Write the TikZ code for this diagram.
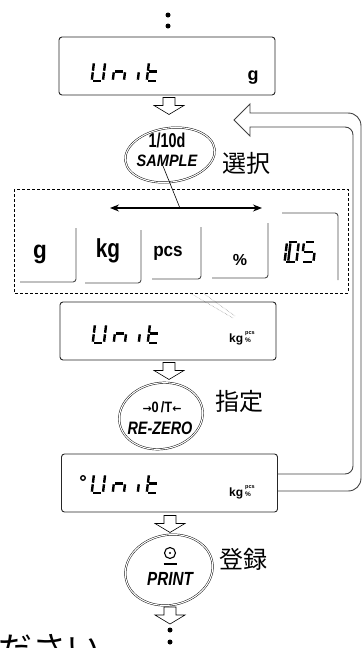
\documentclass[tikz,border=0pt]{standalone}
\usepackage{fontspec}
\setmainfont{Liberation Sans}
\newfontfamily\cjk{Noto Sans CJK JP}
\newfontfamily\djv{DejaVu Sans}
\usetikzlibrary{shapes.geometric,arrows.meta,calc}
\tikzset{
 seg/.style={line width=2.4pt, line cap=butt, black},
 disp/.style={draw=black!85, rounded corners=3pt, line width=0.9pt, minimum width=216pt, minimum height=58pt, inner sep=0pt},
 hollow/.style={draw=black, fill=white, line width=0.6pt, line join=miter},
 ring/.style={draw=black, line width=0.45pt, double=white, double distance=1.1pt},
 tabline/.style={draw=black!70, line width=0.9pt, rounded corners=3pt},
 kanji/.style={font=\cjk\fontsize{24}{24}\selectfont, inner sep=0pt},
 btntxt/.style={inner sep=0pt},
 fbline/.style={draw=black!75, line width=0.9pt},
 bigtxt/.style={inner sep=0pt, anchor=base},
}
\newcommand\segA{\draw[seg] (1.4,0) -- (8.6,0);}
\newcommand\segB{\draw[seg] (10,1.2) -- (10,7.8);}
\newcommand\segC{\draw[seg] (10,9.2) -- (10,15.8);}
\newcommand\segD{\draw[seg] (1.4,17) -- (8.6,17);}
\newcommand\segE{\draw[seg] (0,9.2) -- (0,15.8);}
\newcommand\segF{\draw[seg] (0,1.2) -- (0,7.8);}
\newcommand\segG{\draw[seg] (1.4,8.5) -- (8.6,8.5);}
\newcommand\glyph[4][1.12]{\begin{scope}[shift={(#2,#3)}, scale=#1, xslant=0.12]#4\end{scope}}
\newcommand\chU{\segB\segC\segD\segE\segF}
\newcommand\chN{\segC\segE\segG}
\newcommand\chI{\segE}
\newcommand\chT{\segD\segE\segF\segG}
\newcommand\chD{\segA\segB\segC\segD\segE\segF\draw[seg] (3,1.2) -- (3,15.8);}
\newcommand\chFive{\segA\segF\segG\segC\segD}
\newcommand\unitword[2]{%
 \glyph{#1}{#2}{\chU}
 \glyph{#1+21}{#2}{\chN}
 \glyph{#1+46}{#2}{\chI}
 \glyph{#1+55}{#2}{\chT}}
\newcommand\hdown[1]{\begin{scope}[shift={#1}]
 \draw[hollow] (-6,0) -- (-6,8) -- (-15,8) -- (0,17) -- (15,8) -- (6,8) -- (6,0) -- cycle;
 \end{scope}}
\newcommand\kgpcs[2]{%
 \node[inner sep=0pt, anchor=base west] at (#1,#2) {\fontsize{12}{12}\selectfont\bfseries kg};
 \node[inner sep=0pt, anchor=base west] at (#1+16,#2-7.5) {\fontsize{5.5}{5.5}\selectfont\bfseries pcs};
 \node[inner sep=0pt, anchor=base west] at (#1+16,#2+0.5) {\fontsize{6.5}{6.5}\selectfont\bfseries\%};}
\begin{document}
\begin{tikzpicture}[x=1pt,y=-1pt]
\useasboundingbox (0,0) rectangle (363,648);
% top dots
\fill (168,15) circle (2.5pt);
\fill (168,26) circle (2.5pt);
% display 1
\node[disp] (d1) at (167,66) {};
\unitword{94}{62}
\node[bigtxt] at (253,80) {\fontsize{18}{18}\selectfont\bfseries g};
\hdown{($(d1.south)+(2,2)$)}
% SAMPLE button
\node[ellipse, ring, minimum width=90pt, minimum height=54pt, rotate=8] (b1) at (170,155) {};
\node[btntxt] (b1a) at (167,140) {\scalebox{0.72}[1]{\fontsize{20}{20}\selectfont\bfseries 1/10d}};
\node[btntxt] (b1b) at (167,161) {\scalebox{0.88}[1]{\fontsize{16.5}{16.5}\selectfont\bfseries\itshape SAMPLE}};
\node[kanji] (k1) at (246,163) {選択};
% selection box
\draw[dashed, dash pattern=on 3pt off 2pt, line width=0.7pt] (14,189) rectangle (348,293);
\coordinate (la) at (110,208);
\coordinate (ra) at (262,208);
\draw[{Stealth[length=9pt,width=7pt]}-{Stealth[length=9pt,width=7pt]}, line width=1.2pt] (la) -- (ra);
\draw[line width=0.6pt] ($(b1b.south)+(-4,-1)$) -- ($(la)!0.46!(ra)$);
% tabs
\draw[tabline] (76,228) -- (76,282) -- (20,282);
\draw[tabline] (141,230) -- (141,283) -- (85,283);
\draw[tabline] (201,227) -- (201,279) -- (152,279);
\draw[tabline] (268,223) -- (268,278) -- (212,278);
\draw[tabline] (282,213) -- (338,213) -- (338,280);
\node[bigtxt] (t1) at (40,258) {\scalebox{0.9}[1]{\fontsize{25}{25}\selectfont\bfseries g}};
\node[bigtxt] (t2) at (108,257) {\scalebox{0.8}[1]{\fontsize{26}{26}\selectfont\bfseries kg}};
\node[bigtxt] (t3) at (168,256) {\scalebox{0.9}[1]{\fontsize{19}{19}\selectfont\bfseries pcs}};
\node[bigtxt] (t4) at (240,265) {\fontsize{16}{16}\selectfont\bfseries\%};
\glyph[1.18]{287}{242}{\chD}
\glyph[1.18]{304}{242}{\chFive}
% faint guide lines
\draw[black!45, densely dotted, line width=0.5pt] (190,293) -- (233,318);
\draw[black!45, densely dotted, line width=0.5pt] (203,293) -- (235,316);
% display 2
\node[disp] (d2) at (168,331) {};
\unitword{95}{324}
\kgpcs{229}{342}
\hdown{($(d2.south)+(1,2)$)}
% RE-ZERO button
\node[ellipse, ring, minimum width=84pt, minimum height=66pt, rotate=10] (b2) at (161,416) {};
\node[btntxt] (b2a) at (162,407) {{\djv\fontsize{11}{11}\selectfont\bfseries →}\scalebox{0.85}[1]{\fontsize{15}{15}\selectfont\bfseries 0\,/T}{\djv\fontsize{11}{11}\selectfont\bfseries ←}};
\node[btntxt] (b2b) at (160,428) {\scalebox{0.8}[1]{\fontsize{18}{18}\selectfont\bfseries\itshape RE-ZERO}};
\node[kanji] (k2) at (239,401) {指定};
% display 3
\node[disp] (d3) at (169.5,483) {};
\draw[line width=1.3pt] (83,478) circle (2.3pt);
\unitword{94}{474}
\kgpcs{229}{496}
\hdown{($(d3.south)+(0.5,3)$)}
% feedback hollow arrow
\draw[fbline, line join=miter] ($(d3.east)+(0,8)$) -- (348,491) .. controls (355.5,491) and (361,485.5) .. (361,478)
 -- (361,126) .. controls (361,118.5) and (355.5,113) .. (348,113)
 -- (250,113) -- (250,104) -- (234,120) -- (250,136) -- (250,127)
 -- (345,127) .. controls (349.5,127) and (353,130.5) .. (353,135)
 -- (353,466) .. controls (353,470.5) and (349.5,474) .. (345,474) -- ($(d3.east)+(0,-9)$);
% PRINT button
\node[ellipse, ring, minimum width=88pt, minimum height=70pt, rotate=12] (b3) at (169,570) {};
\draw[line width=1.1pt] (170,553) circle (5.5pt);
\fill (170,553) circle (1.1pt);
\draw[line width=1.5pt] (163.5,564) -- (176.5,564);
\node[btntxt] (b3b) at (170,579) {\scalebox{0.8}[1]{\fontsize{19}{19}\selectfont\bfseries\itshape PRINT}};
\node[kanji] (k3) at (243,559) {登録};
\hdown{(170,607)}
% bottom dots
\fill (170,630) circle (2.5pt);
\fill (170,642) circle (2.5pt);
% cut-off text
\node[inner sep=0pt, anchor=base west] (cut) at (-2,661) {\cjk\fontsize{34}{34}\selectfont ださい};
\end{tikzpicture}
\end{document}
